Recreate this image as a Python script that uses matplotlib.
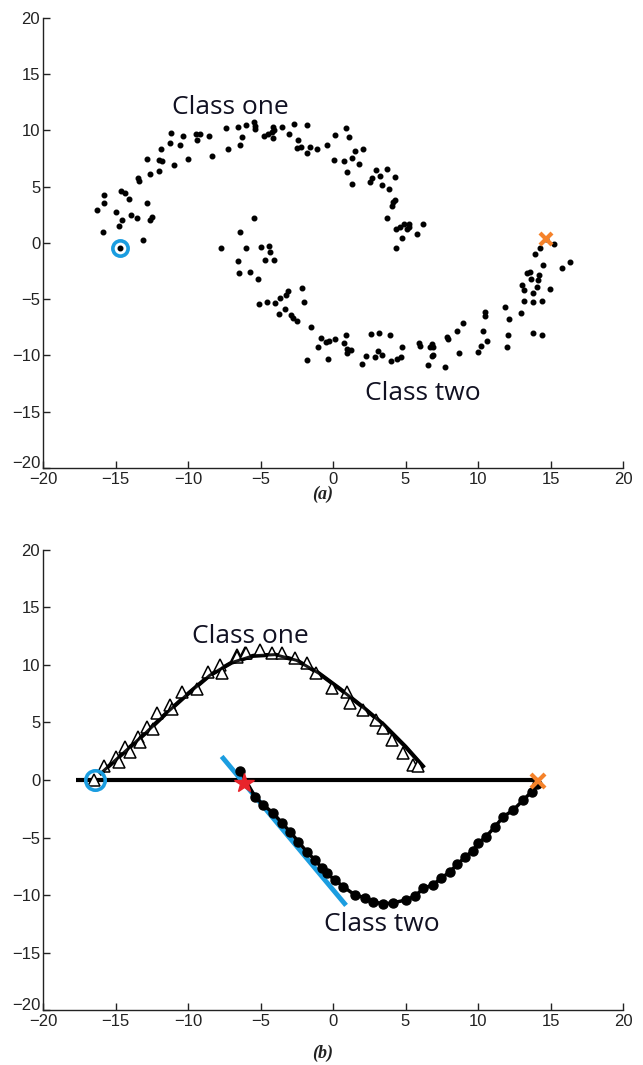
import matplotlib
matplotlib.use("Agg")
import matplotlib.pyplot as plt
from matplotlib.transforms import ScaledTranslation

# ---------------- data: panel (a) ----------------
class_one_x = [-11.19, -10.37, -9.45, -9.17, -8.55, -7.38, -6.53, -6.0, -5.38, -5.38, -5.45,
               -11.24, -10.55, -9.40, -8.37, -7.26, -6.41, -6.28, -11.86, -12.85, -12.02, -11.77,
               -10.94, -10.02, -13.47, -13.40, -12.60, -12.0, -14.62, -14.32, -14.05, -15.79,
               -15.81, -16.25, -14.97, -14.57, -14.78, -13.95, -13.49, -12.62, -12.46, -12.85,
               -15.88, -13.12, -14.69,
               -4.74, -4.46, -4.23, -4.12, -4.07, -4.16, -3.54, -3.06, -2.67, -2.43, -2.50, -2.23,
               -1.77, -1.81, -1.59, -1.13, -0.41, 0.07, 0.14, 0.87, 1.08, 0.78, 1.29, 1.52, 2.07,
               1.82, 0.99, 1.33, 2.99, 3.70, 3.26, 2.69, 2.53, 3.36, 3.84, 4.28, 4.28, 4.16, 4.05,
               3.70, 4.32, 4.62, 4.90, 5.22, 5.26, 5.13, 6.18, 5.77, 4.74, 4.34]
class_one_y = [9.80, 9.50, 9.71, 9.65, 9.50, 10.21, 10.33, 10.47, 10.38, 10.15, 10.73,
               8.91, 8.67, 9.14, 7.73, 8.32, 8.70, 9.41, 8.32, 7.49, 7.37, 7.28,
               6.90, 7.49, 5.78, 5.49, 6.11, 6.37, 4.63, 4.48, 3.89, 4.25,
               3.51, 2.95, 2.71, 2.04, 1.53, 2.48, 2.24, 2.04, 2.27, 3.54,
               0.95, 0.24, -0.44,
               9.50, 9.71, 9.85, 10.33, 10.0, 9.35, 10.33, 9.73, 10.56, 9.14, 8.47, 8.56,
               10.47, 8.02, 8.56, 8.32, 8.67, 7.37, 9.62, 10.21, 9.38, 7.26, 7.52, 8.20, 8.32,
               7.05, 6.35, 5.28, 6.46, 6.55, 5.96, 5.75, 5.40, 5.16, 4.78, 5.87, 3.83, 3.65, 3.30,
               2.24, 1.24, 1.39, 1.65, 1.68, 1.39, 1.24, 1.65, 0.82, 0.47, -0.42]

class_two_x = [-5.45, -6.44, -7.75, -6.0, -4.99, -4.44, -4.34, -6.53, -4.71, -4.07, -6.46, -5.72,
               -5.15, -2.14, -3.10, -3.24, -3.63, -3.98, -4.53, -5.08, -1.98, -3.33, -3.70, -2.87,
               -2.78, -2.50, -1.50, -0.85, -0.48, -0.30, 0.14, -1.06, 0.87, 0.78, 0.97, 1.24, 0.94,
               -1.81, -0.34, 2.62, 3.17, 3.91, 3.08, 3.36, 2.25, 2.88, 1.98, 3.98, 4.44, 4.69, 4.74,
               5.91, 6.0, 6.53,
               14.69, 15.24, 14.28, 13.95, 14.50, 16.34, 15.79, 13.36, 13.61, 14.23, 13.63, 14.16,
               13.01, 13.17, 14.05, 13.77, 14.97, 13.17, 13.77, 14.43, 11.86, 12.97, 10.48, 10.48,
               12.14, 8.94, 8.57, 10.32, 12.05, 13.77, 14.41, 7.84, 7.95, 10.60, 10.21, 10.02,
               11.98, 8.67, 6.80, 6.87, 6.69, 6.92, 6.80, 7.75]
class_two_y = [2.24, 0.95, -0.47, -0.47, -0.33, -0.24, -0.83, -1.62, -1.50, -1.50, -2.68, -2.54,
               -3.16, -3.98, -4.31, -4.60, -4.90, -5.34, -5.25, -5.40, -5.25, -5.84, -6.31, -6.43,
               -6.67, -6.90, -7.49, -8.41, -8.79, -8.70, -8.55, -9.23, -8.20, -8.88, -9.44, -9.47, -9.82,
               -10.42, -10.33, -8.05, -7.96, -8.20, -9.59, -9.94, -10.03, -10.18, -10.77, -10.53, -10.29,
               -10.18, -9.23, -8.91, -9.18, -10.86,
               0.35, -0.09, -0.47, -0.94, -2.0, -1.65, -2.21, -2.65, -2.54, -2.83, -3.19, -3.30,
               -3.72, -4.19, -3.95, -4.42, -4.07, -5.13, -5.25, -5.13, -5.72, -6.19, -6.13, -6.52,
               -6.78, -7.14, -7.85, -7.85, -8.20, -7.96, -8.20, -8.35, -8.55, -8.67, -9.14, -9.73,
               -9.23, -9.82, -9.0, -9.23, -9.23, -9.97, -10.09, -11.0]

a_start = (-14.69, -0.44)   # blue circle
a_end = (14.69, 0.35)       # orange cross

# ---------------- data: panel (b) ----------------
tri_x = [-16.48, -15.77, -14.99, -14.74, -14.34, -14.0, -13.43, -13.31, -12.85, -12.43, -12.11,
         -11.24, -11.08, -10.44, -9.36, -8.64, -7.79, -7.68, -6.64, -6.07, -6.64, -6.0, -5.03,
         -4.23, -3.54, -2.62, -1.77, -1.17, -0.09, 0.99, 1.17, 2.09, 2.94, 3.47, 4.05, 4.85,
         5.54, 5.86]
tri_y = [0.0, 1.22, 2.03, 1.59, 2.84, 2.46, 3.77, 3.33, 4.58, 4.41, 5.86,
         6.52, 6.15, 7.62, 7.88, 9.42, 10.0, 9.27, 10.87, 11.01, 10.72, 11.01, 11.30,
         11.07, 11.07, 10.58, 10.14, 9.27, 7.97, 7.68, 6.67, 6.09, 5.22, 4.49, 3.48, 2.32,
         1.30, 1.22]

curve_one_x = [-16.0, -14.5, -13.0, -11.5, -10.0, -8.5, -7.0, -5.5, -4.0, -2.5, -1.0, 0.5,
               2.0, 3.5, 5.0, 6.2]
curve_one_y = [0.6, 2.3, 4.0, 5.8, 7.5, 9.1, 10.2, 10.8, 10.9, 10.4, 9.3, 7.9,
               6.4, 4.8, 2.9, 1.2]

circ_x = [-6.4, -5.38, -4.80, -4.11, -3.54, -2.97, -2.39, -1.82, -1.24, -0.78, -0.43, 0.14,
          0.71, 1.52, 2.21, 2.78, 3.47, 4.16, 5.03, 5.66, 6.23, 6.87, 7.45, 8.07, 8.57,
          9.10, 9.63, 10.02, 10.55, 11.17, 11.75, 12.43, 13.12, 13.70, 14.05]
circ_y = [0.8, -1.45, -2.17, -2.90, -3.71, -4.49, -5.36, -6.23, -6.96, -7.62, -8.12, -8.70,
          -9.28, -10.0, -10.23, -10.58, -10.78, -10.67, -10.43, -10.09, -9.42, -9.13, -8.55,
          -7.97, -7.33, -6.72, -6.15, -5.51, -4.93, -4.06, -3.19, -2.61, -1.74, -1.02, -0.35]

hline_x = [-17.7, 14.2]
hline_y = [0.0, 0.0]
tangent_x = [-7.68, 0.9]
tangent_y = [2.05, -10.9]
b_start = (-16.4, 0.0)
b_star = (-6.14, -0.25)
b_end = (14.16, -0.05)

ticks = [-20, -15, -10, -5, 0, 5, 10, 15, 20]

BLUE = "#1B9DE0"
ORANGE = "#F5822A"
RED = "#E8242B"

tick_font = ["Liberation Sans Narrow", "Liberation Sans", "DejaVu Sans"]
label_font = ["Open Sans", "DejaVu Sans"]

fig = plt.figure(figsize=(6.43, 10.65), dpi=100)
ax1 = fig.add_axes([0.0669, 0.5606, 0.902, 0.4225])
ax2 = fig.add_axes([0.0669, 0.0516, 0.902, 0.432])


def style(ax):
    ax.set_xlim(-20, 20)
    ax.set_ylim(-20, 20)
    ax.set_xticks(ticks)
    ax.set_yticks(ticks)
    for s in ("top", "right"):
        ax.spines[s].set_visible(False)
    for s in ("left", "bottom"):
        ax.spines[s].set_linewidth(1.0)
        ax.spines[s].set_color("#222222")
    ax.tick_params(direction="in", length=5, width=1, labelsize=12,
                   colors="#222222")
    ax.tick_params(axis="y", pad=2)
    ax.tick_params(axis="x", pad=3)
    for lab in ax.get_xticklabels() + ax.get_yticklabels():
        lab.set_family(tick_font)
    # lift the lowest y label slightly so it sits just above the x label
    low = ax.get_yticklabels()[0]
    low.set_transform(low.get_transform() +
                      ScaledTranslation(0, 4 / 72, fig.dpi_scale_trans))


style(ax1)
style(ax2)

# panel (a)
ax1.plot(class_one_x, class_one_y, "o", color="black", ms=3.3, ls="none")
ax1.plot(class_two_x, class_two_y, "o", color="black", ms=3.3, ls="none")
ax1.plot([a_start[0]], [a_start[1]], "o", mfc="none", mec=BLUE, mew=2.6, ms=11)
ax1.plot([a_end[0]], [a_end[1]], "x", color=ORANGE, mew=3, ms=9)
ax1.text(-7.1, 12.0, "Class one", ha="center", va="center", fontsize=19,
         family=label_font, color="#111122")
ax1.text(6.2, -13.4, "Class two", ha="center", va="center", fontsize=19,
         family=label_font, color="#111122")

# panel (b)
ax2.plot(hline_x, hline_y, color="black", lw=3, solid_capstyle="butt")
ax2.plot(curve_one_x, curve_one_y, color="black", lw=3)
ax2.plot(tri_x, tri_y, "^", mfc="white", mec="black", mew=1.1, ms=9, ls="none")
ax2.plot(curve_one_x, curve_one_y, color="black", lw=2.2, alpha=0.9)
ax2.plot(tangent_x, tangent_y, color=BLUE, lw=3.5, solid_capstyle="butt")
ax2.plot(circ_x, circ_y, "-o", color="black", lw=2.5, ms=6.5)
ax2.plot([b_start[0]], [b_start[1]], "o", mfc="none", mec=BLUE, mew=2.6, ms=14)
ax2.plot([b_star[0]], [b_star[1]], "*", color=RED, ms=15)
ax2.plot([b_end[0]], [b_end[1]], "x", color=ORANGE, mew=3, ms=10)
ax2.text(-5.7, 12.5, "Class one", ha="center", va="center", fontsize=19,
         family=label_font, color="#111122")
ax2.text(3.4, -12.6, "Class two", ha="center", va="center", fontsize=19,
         family=label_font, color="#111122")

cap_font = ["Liberation Serif", "DejaVu Serif"]
fig.text(0.502, 0.536, "(a)", ha="center", va="center", fontsize=13,
         style="italic", weight="bold", family=cap_font, color="#222222")
fig.text(0.502, 0.011, "(b)", ha="center", va="center", fontsize=13,
         style="italic", weight="bold", family=cap_font, color="#222222")

fig.savefig("out.png", dpi=100)
